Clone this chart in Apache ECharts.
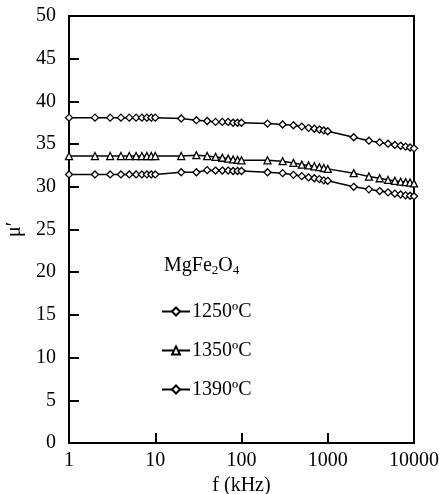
<!DOCTYPE html>
<html><head><meta charset="utf-8">
<script src="https://cdn.jsdelivr.net/npm/echarts@6/dist/echarts.min.js"></script>
<style>html,body{margin:0;padding:0;background:#fff}#c{width:439px;height:494px}</style>
</head><body><div id="c"></div>
<script>
const freqs = [1,2,3,4,5,6,7,8,9,10,20,30,40,50,60,70,80,90,100,200,300,400,500,600,700,800,900,1000,2000,3000,4000,5000,6000,7000,8000,9000,10000];
const s1250 = [38.1,38.1,38.1,38.1,38.1,38.1,38.1,38.1,38.1,38.1,38.0,37.8,37.7,37.6,37.6,37.6,37.5,37.5,37.5,37.4,37.3,37.2,37.05,36.9,36.8,36.7,36.6,36.5,35.8,35.4,35.2,35.05,34.9,34.8,34.7,34.6,34.5];
const s1350 = [33.6,33.6,33.6,33.6,33.6,33.6,33.6,33.6,33.6,33.6,33.6,33.7,33.6,33.5,33.4,33.3,33.2,33.15,33.1,33.1,33.0,32.8,32.6,32.5,32.4,32.3,32.2,32.1,31.6,31.2,31.0,30.8,30.7,30.6,30.55,30.5,30.4];
const s1390 = [31.45,31.45,31.45,31.45,31.45,31.45,31.45,31.45,31.45,31.45,31.7,31.7,31.95,31.9,31.9,31.9,31.85,31.85,31.85,31.7,31.6,31.4,31.25,31.1,31.0,30.9,30.75,30.7,30.0,29.7,29.5,29.35,29.2,29.1,29.0,28.95,28.9];
const seriesNames = ['1250ºC','1350ºC','1390ºC'];
const xTicks = [1,10,100,1000,10000];

const font = 'Liberation Serif';
const chart = echarts.init(document.getElementById('c'), null, {renderer:'canvas'});
function mk(name, vals, sym){
  return {name:name, type:'line', data: freqs.map((f,i)=>[f, vals[i]]),
    symbol: sym, symbolSize: 7, showSymbol:true,
    lineStyle:{color:'#000', width:1.5},
    itemStyle:{color:'#fff', borderColor:'#000', borderWidth:1.3},
    emphasis:{disabled:true}, animation:false};
}
chart.setOption({
  animation:false,
  grid:{left:69, right:25, top:16, bottom:51, containLabel:false, outerBoundsMode:'none',
    show:true, borderColor:'#000', borderWidth:2, backgroundColor:'transparent'},
  xAxis:{type:'log', min:1, max:10000, logBase:10,
    axisLine:{lineStyle:{color:'#000', width:2}},
    axisTick:{inside:true, length:10, lineStyle:{color:'#000', width:2}},
    minorTick:{show:false}, splitLine:{show:false},
    axisLabel:{color:'#000', fontFamily:font, fontSize:20, margin:8,
      formatter: v => String(Math.round(v)), showMinLabel:true, showMaxLabel:true},
    name:'f (kHz)', nameLocation:'middle', nameGap:32,
    nameTextStyle:{color:'#000', fontFamily:font, fontSize:20}},
  yAxis:{type:'value', min:0, max:50, interval:5,
    axisLine:{show:true, lineStyle:{color:'#000', width:2}},
    axisTick:{show:true, inside:true, length:10, lineStyle:{color:'#000', width:2}},
    splitLine:{show:false},
    axisLabel:{color:'#000', fontFamily:font, fontSize:20, margin:13},
    name:'μ′', nameLocation:'middle', nameGap:43, nameRotate:90,
    nameTextStyle:{color:'#000', fontFamily:font, fontSize:20}},
  legend:{orient:'vertical', left:156, top:296, itemWidth:28, itemHeight:10, itemGap:18,
    textStyle:{color:'#000', fontFamily:font, fontSize:20, lineHeight:21, padding:[0,0,0,-3]},
    data: seriesNames.slice(),
    selectedMode:false},
  graphic:[{type:'text', left:164, top:256, style:{
    text:'MgFe{s|2}O{s|4}', fill:'#000', font:'20px "Liberation Serif"',
    rich:{s:{fontSize:13, fontFamily:font, verticalAlign:'bottom', padding:[10,0,0,0]}}}}],
  series:[mk(seriesNames[0], s1250, 'diamond'), mk(seriesNames[1], s1350, 'triangle'), mk(seriesNames[2], s1390, 'diamond')]
});
</script></body></html>
